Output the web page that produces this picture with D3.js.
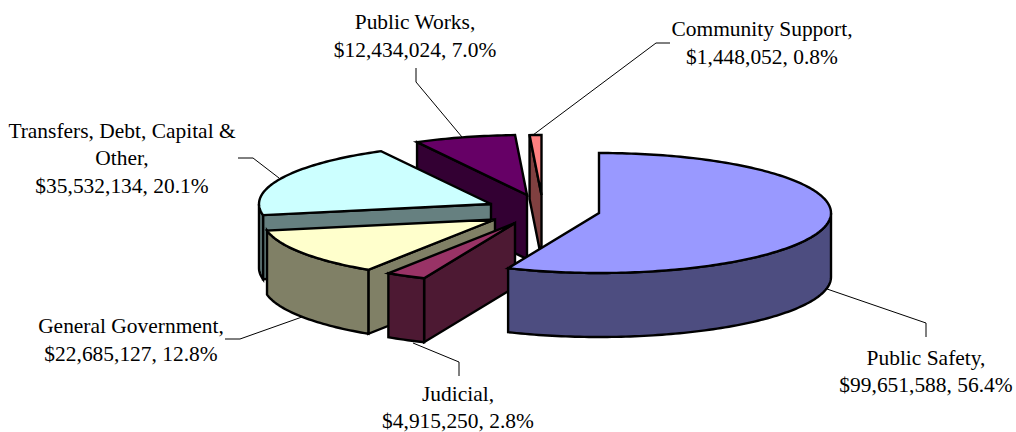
<!DOCTYPE html>
<html><head><meta charset="utf-8">
<script src="https://cdn.jsdelivr.net/npm/d3@7/dist/d3.min.js"></script>
<style>html,body{margin:0;padding:0;background:#fff}svg{display:block}text{font-family:"Liberation Serif","Times New Roman",serif;font-size:21.45px;fill:#000;text-anchor:middle}</style>
</head><body><svg id="c" width="1016" height="432"></svg>
<script>
// Data
const categories = ["Public Safety","Judicial","General Government","Transfers, Debt, Capital & Other","Public Works","Community Support"];
const values = [99651588,4915250,22685127,35532134,12434024,1448052];
const labelLines = [
  ["Public Safety,","$99,651,588, 56.4%"],
  ["Judicial,","$4,915,250, 2.8%"],
  ["General Government,","$22,685,127, 12.8%"],
  ["Transfers, Debt, Capital &","Other,","$35,532,134, 20.1%"],
  ["Public Works,","$12,434,024, 7.0%"],
  ["Community Support,","$1,448,052, 0.8%"]
];
// Styles and layout
const topColors = ["#9999FF","#993366","#FFFFCC","#CCFFFF","#660066","#FF8080"];
const sideColors = ["#4D4D80","#4D1933","#808066","#668080","#330033","#804040"];
const apexes = [[599,213],[515,223],[495,219.5],[491,204],[527,195],[541.5,195]];
const labelPos = [[926,364.5],[458,400.5],[131,333],[122,137.5],[415,29],[762,36]];
const lineStep = 27.7;
const leaders = [
  [[827,289],[926,323],[926,337]],
  [[413,343],[459,362],[459,376]],
  [[302,317],[240,339],[225,339]],
  [[279,178],[253,158],[238,158]],
  [[462,137],[416,82],[416,68]],
  [[533,135],[656,43],[670,43]]
];
const rx = 232, ry = 60, depth = 64;

const svg = d3.select("#c");
const sx = d3.scaleLinear().domain([-1,1]).range([-rx,rx]);
const sy = d3.scaleLinear().domain([-1,1]).range([ry,-ry]);
const slices = d3.pie().sort(null).startAngle(0).endAngle(2*Math.PI)(values);
const pt = (i,a,dz=0)=>[apexes[i][0]+sx(Math.sin(a)), apexes[i][1]+sy(Math.cos(a))+dz];
const apex = (i,dz=0)=>[apexes[i][0],apexes[i][1]+dz];
const line = d3.line();
const arcPts = (i,a0,a1,dz=0)=>{
  const n = Math.max(2,Math.ceil((a1-a0)/0.02));
  return d3.range(n+1).map(k=>pt(i,a0+(a1-a0)*k/n,dz));
};
const stroke = {stroke:"#000","stroke-width":2.4,"stroke-linejoin":"miter"};
function poly(g,pts,fill){
  const p=g.append("path").attr("d",line(pts)+"Z").attr("fill",fill);
  Object.entries(stroke).forEach(([k,v])=>p.attr(k,v));
}
// back-to-front paint order
[5,4,3,2,1,0].forEach(i=>{
  const s = slices[i], a0=s.startAngle, a1=s.endAngle;
  const g = svg.append("g").attr("class","slice").attr("data-name",categories[i]);
  // visible cut faces
  if(Math.sin(a0)<-1e-6) poly(g,[apex(i),pt(i,a0),pt(i,a0,depth),apex(i,depth)],sideColors[i]);
  if(Math.sin(a1)>1e-6) poly(g,[apex(i),pt(i,a1),pt(i,a1,depth),apex(i,depth)],sideColors[i]);
  // outer wall: only the part of the rim facing the viewer
  const w0=Math.max(a0,Math.PI/2), w1=Math.min(a1,3*Math.PI/2);
  if(w1>w0) poly(g,[...arcPts(i,w0,w1),...arcPts(i,w0,w1,depth).reverse()],sideColors[i]);
  // top face
  poly(g,[apex(i),...arcPts(i,a0,a1)],topColors[i]);
});
// leaders
svg.append("g").selectAll("path").data(leaders).join("path")
  .attr("d",d=>line(d)).attr("fill","none").attr("stroke","#000").attr("stroke-width",1);
// labels
labelLines.forEach((ls,i)=>{
  ls.forEach((t,k)=>svg.append("text").attr("x",labelPos[i][0]).attr("y",labelPos[i][1]+k*lineStep).text(t));
});
</script></body></html>
